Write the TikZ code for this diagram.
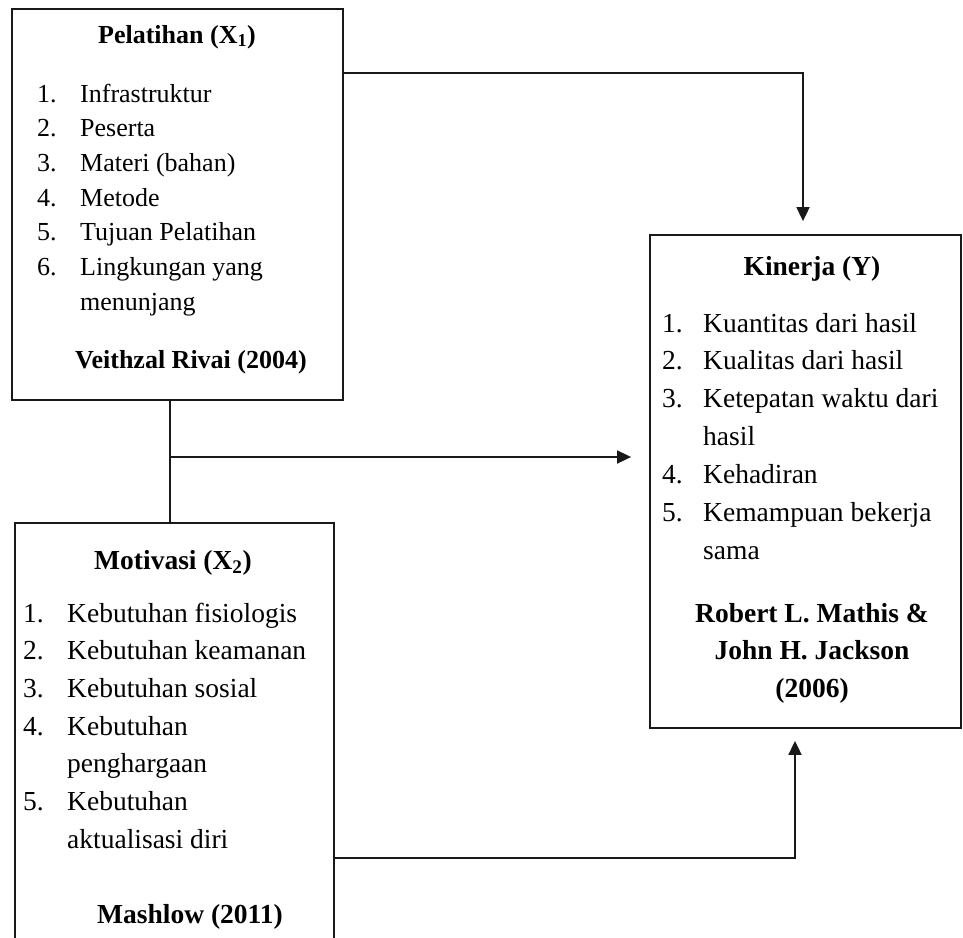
\documentclass[tikz,border=0pt]{standalone}
\usepackage{fontspec}
\setmainfont{Liberation Serif}
\usetikzlibrary{arrows.meta}
\begin{document}
\begin{tikzpicture}[x=1pt, y=-1pt,
    kotak/.style={draw=black!90, line width=1.8pt, inner sep=0pt},
    teks/.style={anchor=base west, inner sep=0pt},
    tengah/.style={anchor=base, inner sep=0pt},
    kecil/.style={font=\fontsize{26}{26}\selectfont},
    besar/.style={font=\fontsize{27.5}{27.5}\selectfont},
    garis/.style={draw=black!90, line width=1.8pt},
    panah/.style={garis, -{Triangle[length=14pt, width=13pt]}}]
    \useasboundingbox (0,0) rectangle (963,937);
    \clip (0,0) rectangle (963,937);
    % kotak variabel
    \node[kotak, minimum width=331pt, minimum height=391pt] (pelatihan) at (177.5,204.5) {};
    \node[kotak, minimum width=319pt, minimum height=437pt] (motivasi) at (174.5,741.5) {};
    \node[kotak, minimum width=311pt, minimum height=493pt] (kinerja) at (805.5,481.5) {};

    % Pelatihan (X1)
    \node[tengah, kecil, font=\fontsize{26}{26}\selectfont\bfseries] (judulX1) at (177,43) {Pelatihan (X\textsubscript{1})};
    \foreach \i/\n/\t in {0/1./Infrastruktur, 1/2./Peserta, 2/3./Materi (bahan), 3/4./Metode,
        4/5./Tujuan Pelatihan, 5/6./Lingkungan yang, 6//menunjang} {
        \node[teks, kecil] (nX1-\i) at (37, {102+34.7*\i}) {\n};
        \node[teks, kecil] (tX1-\i) at (80, {102+34.7*\i}) {\t};
    }
    \node[teks, font=\fontsize{26}{26}\selectfont\bfseries] (rivai) at (75,368) {Veithzal Rivai (2004)};

    % Motivasi (X2)
    \node[tengah, font=\fontsize{27.5}{27.5}\selectfont\bfseries] (judulX2) at (173,569) {Motivasi (X\textsubscript{2})};
    \foreach \i/\n/\t in {0/1./Kebutuhan fisiologis, 1/2./Kebutuhan keamanan, 2/3./Kebutuhan sosial,
        3/4./Kebutuhan, 4//penghargaan, 5/5./Kebutuhan, 6//aktualisasi diri} {
        \node[teks, besar] (nX2-\i) at (23, {622+37.7*\i}) {\n};
        \node[teks, besar] (tX2-\i) at (67, {622+37.7*\i}) {\t};
    }
    \node[teks, font=\fontsize{27.5}{27.5}\selectfont\bfseries] (mashlow) at (97,923) {Mashlow (2011)};

    % Kinerja (Y)
    \node[tengah, font=\fontsize{27.5}{27.5}\selectfont\bfseries] (judulY) at (812,275) {Kinerja (Y)};
    \foreach \i/\n/\t in {0/1./Kuantitas dari hasil, 1/2./Kualitas dari hasil, 2/3./Ketepatan waktu dari,
        3//hasil, 4/4./Kehadiran, 5/5./Kemampuan bekerja, 6//sama} {
        \node[teks, besar] (nY-\i) at (662, {332+37.9*\i}) {\n};
        \node[teks, besar] (tY-\i) at (703, {332+37.9*\i}) {\t};
    }
    \foreach \i/\t in {0/Robert L. Mathis \&, 1/John H. Jackson, 2/(2006)} {
        \node[tengah, font=\fontsize{27.5}{27.5}\selectfont\bfseries] (sumberY-\i) at (812, {622+37.5*\i}) {\t};
    }

    % hubungan antar variabel
    \coordinate (belokAtas) at (803,73);
    \draw[panah, shorten >=13pt] (pelatihan.east |- belokAtas) -| (kinerja.north -| belokAtas);
    \coordinate (cabang) at (170,457);
    \draw[garis] (pelatihan.south -| cabang) -- (motivasi.north -| cabang);
    \draw[panah, shorten >=18pt] (cabang) -- (kinerja.west |- cabang);
    \coordinate (belokBawah) at (795,858);
    \draw[panah, shorten >=12pt] (motivasi.east |- belokBawah) -| (kinerja.south -| belokBawah);
\end{tikzpicture}
\end{document}
